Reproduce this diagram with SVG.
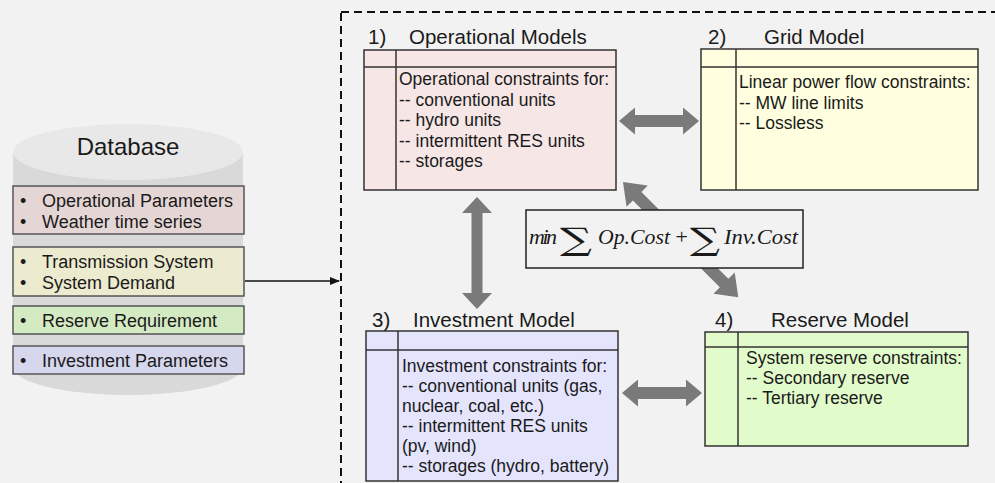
<svg xmlns="http://www.w3.org/2000/svg" width="995" height="483" viewBox="0 0 995 483">
<style>
text{font-family:"Liberation Sans",Arial,sans-serif;fill:#1a1a1a}
.db{font-size:18px}
.ttl{font-size:20.5px}
.body{font-size:17.5px}
.dbbox{stroke:#555;stroke-width:1.5}
.model{stroke:#333;stroke-width:1.5}
.div{stroke:#333;stroke-width:1.5;fill:none}
.arr{fill:#7a7a7a}
.f{font-family:"Liberation Serif","DejaVu Serif",serif;font-style:italic;font-size:22px}
.sum{font-family:"DejaVu Serif","Liberation Serif",serif;font-size:31px}
</style>
<defs>
<marker id="ah" markerWidth="10" markerHeight="8" refX="9" refY="4" orient="auto" markerUnits="userSpaceOnUse">
<path d="M0,0 L10,4 L0,8 Z" fill="#111"/>
</marker>
</defs>
<rect x="0" y="0" width="995" height="483" fill="#f2f2f2"/>

<g id="database">
<path d="M13,152 L13,367 A115,28 0 0 0 243,367 L243,152 Z" fill="#d9d9d9"/>
<ellipse cx="128" cy="152" rx="115" ry="28" fill="#e8e8e8"/>
<text x="128" y="155" font-size="24" text-anchor="middle">Database</text>
<rect class="dbbox" x="13" y="186" width="231" height="48" fill="#e5d6d6"/>
<text class="db" x="20" y="207">•</text><text class="db" x="42" y="207">Operational Parameters</text>
<text class="db" x="20" y="228">•</text><text class="db" x="42" y="228">Weather time series</text>
<rect class="dbbox" x="13" y="247" width="231" height="49" fill="#ecebd0"/>
<text class="db" x="20" y="268">•</text><text class="db" x="42" y="268">Transmission System</text>
<text class="db" x="20" y="289">•</text><text class="db" x="42" y="289">System Demand</text>
<rect class="dbbox" x="13" y="306" width="231" height="28" fill="#d4eac3"/>
<text class="db" x="20" y="327">•</text><text class="db" x="42" y="327">Reserve Requirement</text>
<rect class="dbbox" x="13" y="346" width="231" height="28" fill="#d6d6ec"/>
<text class="db" x="20" y="367">•</text><text class="db" x="42" y="367">Investment Parameters</text>
</g>

<g id="frame">
<rect x="341" y="12" width="700" height="520" fill="none" stroke="#111" stroke-width="2" stroke-dasharray="8 5"/>
</g>

<g id="op-models">
<rect class="model" x="364" y="50" width="252" height="140" fill="#f6e6e6"/>
<line class="div" x1="364" y1="67" x2="616" y2="67"/>
<line class="div" x1="396" y1="50" x2="396" y2="190"/>
<text class="ttl" x="368" y="44">1)</text>
<text class="ttl" x="409" y="44">Operational Models</text>
<text class="body" x="399" y="85">Operational constraints for:</text>
<text class="body" x="399" y="105.5">-- conventional units</text>
<text class="body" x="399" y="126">-- hydro units</text>
<text class="body" x="399" y="146.5">-- intermittent RES units</text>
<text class="body" x="399" y="167">-- storages</text>
</g>

<g id="grid-model">
<rect class="model" x="701" y="49" width="277" height="141" fill="#ffffe0"/>
<line class="div" x1="701" y1="67" x2="978" y2="67"/>
<line class="div" x1="736" y1="49" x2="736" y2="190"/>
<text class="ttl" x="708" y="44">2)</text>
<text class="ttl" x="764" y="44">Grid Model</text>
<text class="body" x="739" y="88">Linear power flow constraints:</text>
<text class="body" x="739" y="108.5">-- MW line limits</text>
<text class="body" x="739" y="129">-- Lossless</text>
</g>

<g id="inv-model">
<rect class="model" x="366" y="331" width="252" height="150" fill="#e4e4fc"/>
<line class="div" x1="366" y1="350" x2="618" y2="350"/>
<line class="div" x1="398" y1="331" x2="398" y2="481"/>
<text class="ttl" x="372" y="327">3)</text>
<text class="ttl" x="413" y="327">Investment Model</text>
<text class="body" x="402" y="372">Investment constraints for:</text>
<text class="body" x="402" y="392">-- conventional units (gas,</text>
<text class="body" x="402" y="412">nuclear, coal, etc.)</text>
<text class="body" x="402" y="432">-- intermittent RES units</text>
<text class="body" x="402" y="452">(pv, wind)</text>
<text class="body" x="402" y="472">-- storages (hydro, battery)</text>
</g>

<g id="res-model">
<rect class="model" x="705" y="332" width="263" height="114" fill="#e2fbcb"/>
<line class="div" x1="705" y1="347" x2="968" y2="347"/>
<line class="div" x1="738" y1="332" x2="738" y2="446"/>
<text class="ttl" x="715" y="327">4)</text>
<text class="ttl" x="771" y="327">Reserve Model</text>
<text class="body" x="746" y="364">System reserve constraints:</text>
<text class="body" x="746" y="384">-- Secondary reserve</text>
<text class="body" x="746" y="404">-- Tertiary reserve</text>
</g>

<g id="connectors">
<line x1="245" y1="281" x2="339" y2="281" stroke="#111" stroke-width="1.5" marker-end="url(#ah)"/>
<path class="arr" d="M619,121 L635,107.5 L635,115 L683,115 L683,107.5 L699,121 L683,134.5 L683,127 L635,127 L635,134.5 Z"/>
<path class="arr" d="M477,197 L492,213 L482.5,213 L482.5,293 L492,293 L477,309 L462,293 L471.5,293 L471.5,213 L462,213 Z"/>
<path class="arr" d="M622,393 L638,379.5 L638,387 L686,387 L686,379.5 L702,393 L686,406.5 L686,399 L638,399 L638,406.5 Z"/>
<path class="arr" transform="translate(623,182) rotate(45)" d="M0,0 L20,-15 L20,-6 L143,-6 L143,-15 L163,0 L143,15 L143,6 L20,6 L20,15 Z"/>
</g>

<g id="objective">
<rect x="526" y="210" width="277" height="58" fill="#f2f2f2" stroke="#222" stroke-width="1.5"/>
<text class="f" x="529" y="244" textLength="28" lengthAdjust="spacing">min</text>
<text class="sum" x="560" y="250" textLength="32" lengthAdjust="spacingAndGlyphs">∑</text>
<text class="f" x="598" y="244" textLength="72" lengthAdjust="spacingAndGlyphs">Op.Cost</text>
<text class="f" x="674" y="244" font-style="normal">+</text>
<text class="sum" x="690" y="250" textLength="30" lengthAdjust="spacingAndGlyphs">∑</text>
<text class="f" x="724" y="244" textLength="74" lengthAdjust="spacingAndGlyphs">Inv.Cost</text>
</g>
</svg>
